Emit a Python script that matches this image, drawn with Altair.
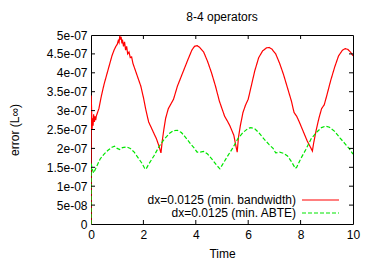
import altair as alt
import pandas as pd

# ---- data (error in units of 1e-7) ----
red_t = [0, 0.005, 0.02, 0.04, 0.06, 0.08, 0.1, 0.13, 0.15, 0.18, 0.2, 0.25, 0.3, 0.4, 0.5,
         0.6, 0.7, 0.8, 0.88, 0.95, 1.0, 1.04, 1.07, 1.1, 1.12, 1.15, 1.18, 1.2, 1.24, 1.28,
         1.32, 1.36, 1.4, 1.45, 1.5, 1.55, 1.6, 1.7, 1.8, 1.9, 2.0, 2.1, 2.2, 2.3, 2.4, 2.5,
         2.6, 2.67, 2.72, 2.78, 2.85, 2.95, 3.07, 3.15, 3.3, 3.5, 3.7, 3.85, 3.95, 4.05, 4.15,
         4.3, 4.45, 4.6, 4.75, 4.9, 5.0, 5.1, 5.2, 5.3, 5.45, 5.52, 5.58, 5.63, 5.7, 5.8, 5.9,
         6.0, 6.1, 6.25, 6.4, 6.55, 6.7, 6.8, 6.9, 7.05, 7.2, 7.35, 7.5, 7.65, 7.75, 7.85, 7.95,
         8.1, 8.25, 8.4, 8.45, 8.5, 8.6, 8.7, 8.8, 8.9, 9.0, 9.15, 9.3, 9.45, 9.6, 9.7, 9.8,
         9.9, 10.0]
red_e = [0, 3.4, 3.1, 2.5, 2.8, 2.6, 2.9, 2.7, 2.85, 2.75, 2.85, 2.95, 3.05, 3.4, 3.7,
         3.95, 4.2, 4.45, 4.6, 4.7, 4.75, 4.85, 4.8, 4.98, 4.88, 4.95, 4.78, 4.88, 4.7, 4.82,
         4.6, 4.7, 4.5, 4.55, 4.4, 4.42, 4.25, 4.05, 3.85, 3.65, 3.35, 3.0, 2.7, 2.55, 2.4, 2.25,
         2.05, 1.88, 2.2, 2.5, 2.8, 3.05, 3.2, 3.3, 3.65, 4.0, 4.35, 4.6, 4.7, 4.72, 4.67,
         4.55, 4.3, 4.0, 3.65, 3.25, 3.05, 2.85, 2.73, 2.6, 2.35, 2.1, 1.9, 2.3, 2.6, 2.95, 3.15,
         3.3, 3.6, 4.05, 4.4, 4.58, 4.66, 4.67, 4.63, 4.5, 4.25, 3.95, 3.6, 3.25, 2.95, 2.85, 2.7,
         2.45, 2.2, 2.0, 1.93, 2.15, 2.5, 2.8, 3.05, 3.15, 3.4, 3.8, 4.15, 4.45, 4.6, 4.64, 4.62,
         4.55, 4.45]

green_t = [0, 0.005, 0.05, 0.1, 0.2, 0.35, 0.5, 0.65, 0.8, 0.9, 1.0, 1.1, 1.2, 1.35, 1.5,
           1.65, 1.8, 1.95, 2.05, 2.1, 2.2, 2.4, 2.6, 2.8, 3.0, 3.15, 3.3, 3.45, 3.6, 3.8, 3.95,
           4.05, 4.15, 4.3, 4.45, 4.6, 4.8, 4.92, 5.0, 5.2, 5.4, 5.6, 5.8, 6.0, 6.1, 6.25, 6.4,
           6.6, 6.8, 6.95, 7.05, 7.2, 7.35, 7.5, 7.65, 7.8, 7.85, 8.0, 8.2, 8.4, 8.6, 8.8, 8.95,
           9.1, 9.3, 9.5, 9.7, 9.85, 10.0]
green_e = [0, 1.6, 1.45, 1.35, 1.5, 1.72, 1.85, 1.95, 2.03, 2.06, 2.0, 1.97, 2.02, 2.04, 2.0,
           1.9, 1.75, 1.6, 1.47, 1.45, 1.58, 1.8, 2.05, 2.25, 2.4, 2.47, 2.48, 2.42, 2.3, 2.12, 2.0,
           1.9, 1.9, 1.92, 1.85, 1.73, 1.55, 1.46, 1.55, 1.78, 2.0, 2.25, 2.42, 2.53, 2.55, 2.52, 2.42,
           2.25, 2.1, 2.0, 1.88, 1.9, 1.87, 1.8, 1.65, 1.47, 1.5, 1.72, 1.97, 2.25, 2.42, 2.55, 2.59,
           2.56, 2.45, 2.28, 2.12, 2.0, 1.85]

chart_title = ["8-4 operators"]
series_names = ["dx=0.0125 (min. bandwidth)", "dx=0.0125 (min. ABTE)"]
series_colors = ["#ff0000", "#00e600"]
x_ticks = [0, 2, 4, 6, 8, 10]
y_ticks = [0, 0.5e-7, 1e-7, 1.5e-7, 2e-7, 2.5e-7, 3e-7, 3.5e-7, 4e-7, 4.5e-7, 5e-7]

W, H = 262, 189
FONT = "Liberation Sans"

df = pd.concat([
    pd.DataFrame({"t": red_t, "err": [v * 1e-7 for v in red_e], "series": series_names[0]}),
    pd.DataFrame({"t": green_t, "err": [v * 1e-7 for v in green_e], "series": series_names[1]}),
])

xscale = alt.Scale(domain=[0, 10], nice=False, zero=False)
yscale = alt.Scale(domain=[0, 5e-7], nice=False)
xaxis = alt.Axis(values=x_ticks, ticks=False, tickSize=0, domain=False, grid=False,
                 labelPadding=5, titlePadding=8, format="d", labelOverlap=False, labelFlush=False)
yaxis = alt.Axis(values=y_ticks, ticks=False, tickSize=0, domain=False, grid=False,
                 labelPadding=4, titlePadding=25, labelOverlap=False, labelFlush=False,
                 labelExpr="datum.value == 0 ? '0' : replace(format(datum.value, '.2~e'), 'e-', 'e-0')")
XT, YT = "Time", "error (L∞)"

lines = alt.Chart(df).mark_line(strokeWidth=1.2, clip=True).encode(
    x=alt.X("t:Q", scale=xscale, title=XT, axis=xaxis),
    y=alt.Y("err:Q", scale=yscale, title=YT, axis=yaxis),
    color=alt.Color("series:N", scale=alt.Scale(domain=series_names, range=series_colors), legend=None),
    strokeDash=alt.StrokeDash("series:N", scale=alt.Scale(domain=series_names, range=[[1, 0], [4, 2]]), legend=None),
)

xt = pd.DataFrame({"v": x_ticks[1:-1]})
yt = pd.DataFrame({"v": y_ticks[1:-1]})
tick_bottom = alt.Chart(xt).mark_rule(color="black").encode(
    x=alt.X("v:Q", scale=xscale, title=XT, axis=xaxis), y=alt.value(H), y2=alt.value(H - 4))
tick_top = alt.Chart(xt).mark_rule(color="black").encode(
    x=alt.X("v:Q", scale=xscale, title=XT, axis=xaxis), y=alt.value(0), y2=alt.value(4))
tick_left = alt.Chart(yt).mark_rule(color="black").encode(
    y=alt.Y("v:Q", scale=yscale, title=YT, axis=yaxis), x=alt.value(0), x2=alt.value(4))
tick_right = alt.Chart(yt).mark_rule(color="black").encode(
    y=alt.Y("v:Q", scale=yscale, title=YT, axis=yaxis), x=alt.value(W), x2=alt.value(W - 4))

title_layer = alt.Chart(pd.DataFrame({"label": chart_title})).mark_text(
    align="center", baseline="middle", font=FONT, fontSize=12, color="black"
).encode(text="label:N", x=alt.value(W / 2), y=alt.value(-18))

legend_layers = []
legend_rows_y = [165, 178]
for i, name in enumerate(series_names):
    ld = pd.DataFrame({"label": [name]})
    legend_layers.append(
        alt.Chart(ld).mark_text(align="right", baseline="middle", font=FONT, fontSize=12, color="black")
        .encode(text="label:N", x=alt.value(205), y=alt.value(legend_rows_y[i]))
    )
    legend_layers.append(
        alt.Chart(ld).mark_rule(color=series_colors[i], strokeWidth=1.2,
                                strokeDash=[1, 0] if i == 0 else [4, 2])
        .encode(x=alt.value(211), x2=alt.value(248), y=alt.value(legend_rows_y[i]))
    )

chart = alt.layer(lines, tick_bottom, tick_top, tick_left, tick_right, title_layer, *legend_layers).properties(
    width=W, height=H,
    background="white",
    autosize=alt.AutoSizeParams(type="none"),
    padding={"left": 83, "top": 27, "right": 13, "bottom": 37},
).configure_view(
    stroke="black", strokeWidth=1
).configure_axis(
    labelFont=FONT, labelFontSize=12, labelColor="black",
    titleFont=FONT, titleFontSize=12, titleColor="black", titleFontWeight="normal",
)

chart.save("out.html", embed_options={"renderer": "svg", "actions": False})
